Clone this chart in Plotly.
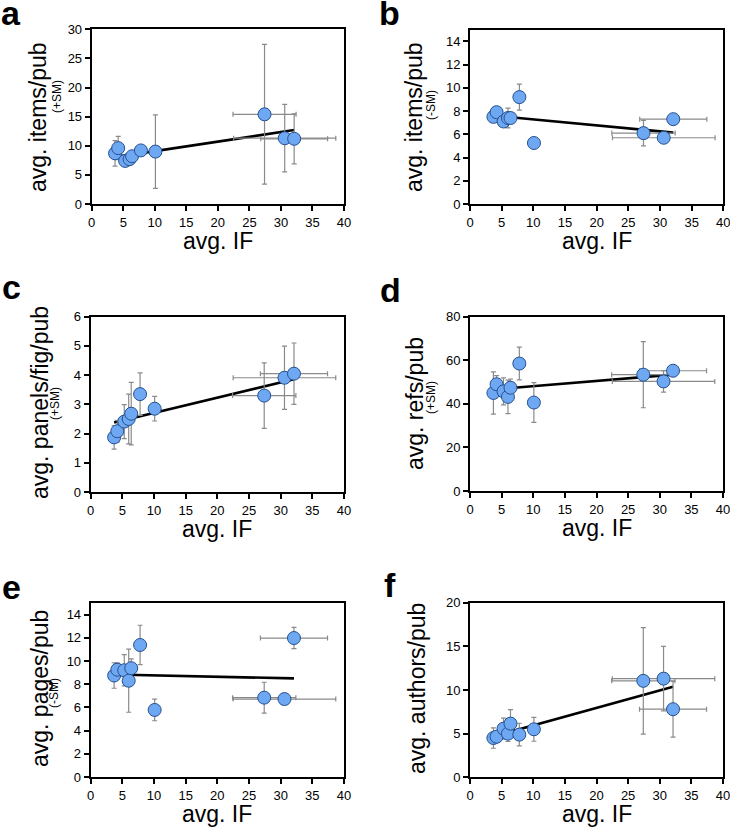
import plotly.graph_objects as go

W, H = 730, 828

# ---------------- data ----------------
avg_IF = [3.7, 4.2, 5.3, 6.0, 6.4, 7.8, 10.1, 27.4, 30.6, 32.1]
avg_IF_err = [0.3, 0.3, 0.3, 0.3, 0.3, 0.4, 0.5, 5.0, 8.1, 5.3]

items_sm = [8.7, 9.6, 7.4, 7.7, 8.2, 9.2, 9.0, 15.4, 11.3, 11.2]
items_sm_err = [2.2, 2.0, 0.6, 0.6, 0.7, 0.7, 6.3, 12.0, 5.8, 4.3]

items_nosm = [7.5, 7.9, 7.1, 7.4, 7.4, 9.2, 5.25, 6.1, 5.7, 7.3]
items_nosm_err = [0.3, 0.3, 0.3, 0.85, 0.4, 1.12, 0.3, 1.1, 0.3, 0.3]

panels = [1.87, 2.08, 2.41, 2.5, 2.68, 3.35, 2.85, 3.3, 3.91, 4.05]
panels_err = [0.4, 0.37, 0.58, 0.85, 1.07, 0.73, 0.42, 1.12, 1.08, 1.05]

refs = [45.0, 49.0, 45.7, 43.2, 47.4, 58.5, 40.6, 53.4, 50.3, 55.2]
refs_err = [9.7, 4.0, 6.2, 7.7, 4.0, 7.5, 9.1, 15.2, 4.9, 2.0]

pages = [8.75, 9.25, 9.2, 8.3, 9.38, 11.38, 5.78, 6.84, 6.72, 11.98]
pages_err = [1.1, 0.6, 1.35, 2.72, 0.8, 1.7, 0.93, 1.33, 0.4, 0.92]

authors = [4.5, 4.65, 5.57, 5.0, 6.15, 4.89, 5.5, 11.05, 11.3, 7.8]
authors_err = [1.17, 0.6, 1.2, 0.9, 1.6, 1.3, 1.37, 6.1, 3.7, 3.2]

# regression line end points (at min and max avg. IF)
fit_x = [3.7, 32.1]
fit_items_sm = [8.05, 12.7]
fit_items_nosm = [7.61, 6.14]
fit_panels = [2.38, 3.86]
fit_refs = [46.6, 53.4]
fit_pages = [8.83, 8.5]
fit_authors = [4.69, 10.38]

panel_letters = ["a", "b", "c", "d", "e", "f"]
y_titles = ["avg. items/pub", "avg. items/pub", "avg. panels/fig/pub",
            "avg. refs/pub", "avg. pages/pub", "avg. authors/pub"]
y_subtitles = ["(+SM)", "(-SM)", "(+SM)", "(+SM)", "(-SM)", ""]
x_title = "avg. IF"
y_ranges = [(0, 30, 5), (0, 15, 2), (0, 6, 1), (0, 80, 20), (0, 15, 2), (0, 20, 5)]
x_range = (0, 40, 5)

series = [
    (items_sm, items_sm_err, fit_items_sm),
    (items_nosm, items_nosm_err, fit_items_nosm),
    (panels, panels_err, fit_panels),
    (refs, refs_err, fit_refs),
    (pages, pages_err, fit_pages),
    (authors, authors_err, fit_authors),
]

# ---------------- layout (window-pixel boxes of each plot area) ----------------
boxes = [  # left, right, top, bottom
    (91.7, 344.0, 29.3, 204.0),
    (470.0, 723.3, 29.7, 204.0),
    (90.7, 344.0, 316.7, 492.0),
    (470.0, 723.0, 316.7, 491.0),
    (90.7, 344.0, 603.0, 777.0),
    (470.0, 723.0, 602.7, 777.3),
]
# panel letter (x centre, baseline y), main y-title centre, subtitle centre
letter_pos = [(11, 25), (389, 25), (11, 299), (390, 302), (12, 599), (390, 597)]
ytitle_pos = [(38, 117), (414, 117), (40, 403), (415, 404), (40, 689), (417, 689)]
ysub_pos = [(57, 97), (431, 105), (55, 404), (431, 398), (54, 693), (0, 0)]

FONT = "Arial, Liberation Sans, Helvetica, sans-serif"
fill = "#6fa8f2"
edge = "#24508f"
errc = "#8a8a8a"

def px(x):
    return x / W

def py(y):
    return 1 - y / H

fig = go.Figure()
layout = dict(
    width=W, height=H, margin=dict(l=0, r=0, t=0, b=0, autoexpand=False),
    paper_bgcolor="white", plot_bgcolor="white", showlegend=False,
    font=dict(family=FONT, color="black"),
)
annotations = []

for i, ((yv, ye, fy), box) in enumerate(zip(series, boxes)):
    n = "" if i == 0 else str(i + 1)
    xa, ya = "x" + n, "y" + n
    l, r, t, b = box
    y0, y1, dy = y_ranges[i]
    layout["xaxis" + n] = dict(
        domain=[px(l), px(r)], range=[x_range[0], x_range[1]], dtick=x_range[2],
        tick0=0, showline=True, linecolor="black", linewidth=2, mirror=True,
        ticks="outside", ticklen=5, tickwidth=1.5, tickcolor="black",
        showgrid=False, zeroline=False, anchor=ya, automargin=False,
        ticklabeloverflow="allow",
        tickfont=dict(size=13, family=FONT, color="black"),
    )
    layout["yaxis" + n] = dict(
        domain=[py(b), py(t)], range=[y0, y1], dtick=dy, tick0=0,
        showline=True, linecolor="black", linewidth=2, mirror=True,
        ticks="outside", ticklen=5, tickwidth=1.5, tickcolor="black",
        showgrid=False, zeroline=False, anchor=xa, automargin=False,
        ticklabeloverflow="allow",
        tickfont=dict(size=13, family=FONT, color="black"),
    )
    fig.add_trace(go.Scatter(
        x=fit_x, y=fy, mode="lines", line=dict(color="black", width=2.6),
        xaxis=xa, yaxis=ya, hoverinfo="skip",
    ))
    fig.add_trace(go.Scatter(
        x=avg_IF, y=yv, mode="markers",
        marker=dict(size=13, color=fill, line=dict(color=edge, width=1)),
        error_y=dict(type="data", array=ye, visible=True, color=errc, thickness=1.2, width=2.5),
        error_x=dict(type="data", array=avg_IF_err, visible=True, color=errc, thickness=1.2, width=2.5),
        xaxis=xa, yaxis=ya,
    ))
    # panel letter
    lx, lyb = letter_pos[i]
    annotations.append(dict(
        text="<b>%s</b>" % panel_letters[i], x=px(lx), y=py(lyb - 12), xref="paper", yref="paper",
        xanchor="center", yanchor="middle", showarrow=False,
        font=dict(size=34, family=FONT, color="black"),
    ))
    # y title
    tx, ty = ytitle_pos[i]
    annotations.append(dict(
        text=y_titles[i], x=px(tx), y=py(ty), xref="paper", yref="paper",
        xanchor="center", yanchor="middle", textangle=-90, showarrow=False,
        font=dict(size=23, family=FONT, color="black"),
    ))
    if y_subtitles[i]:
        sx, sy = ysub_pos[i]
        annotations.append(dict(
            text=y_subtitles[i], x=px(sx), y=py(sy), xref="paper", yref="paper",
            xanchor="center", yanchor="middle", textangle=-90, showarrow=False,
            font=dict(size=12, family=FONT, color="black"),
        ))
    # x title
    annotations.append(dict(
        text=x_title, x=px((l + r) / 2), y=py(b + 37), xref="paper", yref="paper",
        xanchor="center", yanchor="middle", showarrow=False,
        font=dict(size=23, family=FONT, color="black"),
    ))

layout["annotations"] = annotations
fig.update_layout(**layout)
fig.write_html(
    "out.html",
    config={"displayModeBar": False},
    post_script="document.body.style.margin='0';document.body.style.padding='0';"
                "document.body.style.overflow='hidden';",
)
